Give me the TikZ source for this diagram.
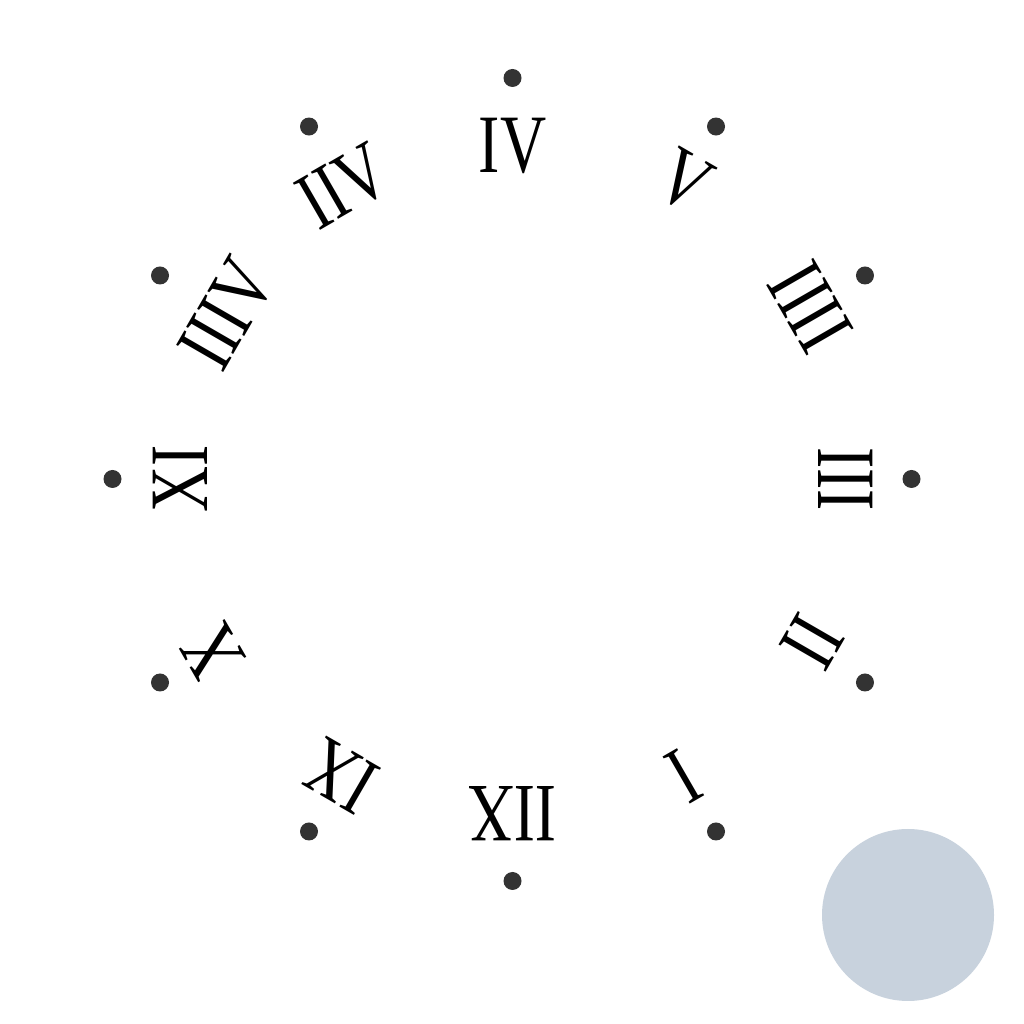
\documentclass[tikz,border=0pt]{standalone}
\usepackage{fontspec}
\usetikzlibrary{calc}
\newfontfamily\clockfont[FakeStretch=0.77]{Liberation Serif}
\definecolor{dotgray}{HTML}{333333}
\definecolor{discblue}{RGB}{200,210,221}
\begin{document}
\begin{tikzpicture}[x=1pt,y=1pt,
  clockdot/.style={circle,fill=dotgray,inner sep=0pt,minimum size=18pt},
  numeral/.style={inner sep=0pt,font=\clockfont\fontsize{83}{83}\selectfont,text=black}]
\useasboundingbox (0,0) rectangle (1024,1024);
\coordinate (c) at (512.5,545);
\foreach \ang/\la/\dr/\lr/\txt [count=\i] in {
  90/90/401/333/IV, 60/60/407/344/V, 30/30/407/344/IIII, 0/0/399/333/III,
  -30/-28.5/407/341/II, -60/-60/407/343/I, -90/-90/402/335/IIX, -120/-120/407/343/IX,
  -150/-150/407/346/X, 180/180/400/332/XI, 150/150/407/330/IIIV, 120/120/407/338/IIV}{
  \node[clockdot] (d\i) at ($(c)+(\ang:\dr)$) {};
  \node[numeral,rotate=\ang-90] (l\i) at ($(c)+(\la:\lr)$) {\txt};
}
\node[circle,fill=discblue,inner sep=0pt,minimum size=172pt] (disc) at (908,109) {};
\end{tikzpicture}
\end{document}
